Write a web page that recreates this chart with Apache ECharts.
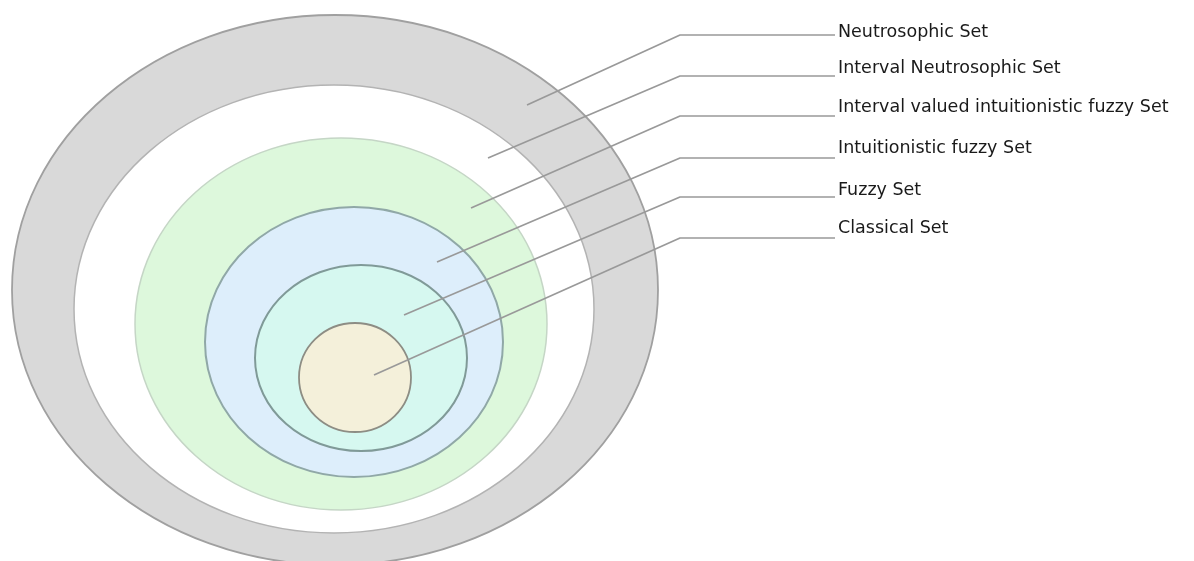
<!DOCTYPE html>
<html>
<head>
<meta charset="utf-8">
<script src="https://cdn.jsdelivr.net/npm/echarts@6/dist/echarts.min.js"></script>
<style>
html,body{margin:0;padding:0;background:#fff;}
#chart{width:1194px;height:561px;}
</style>
</head>
<body>
<div id="chart"></div>
<script>
// Set names (outer to inner)
var setNames = ["Neutrosophic Set", "Interval Neutrosophic Set", "Interval valued intuitionistic fuzzy Set", "Intuitionistic fuzzy Set", "Fuzzy Set", "Classical Set"];
// Ellipse geometry: centre x, centre y, radius x, radius y
var ellipseCx = [335, 334, 341, 354, 361, 355];
var ellipseCy = [290, 309, 324, 342, 358, 377.5];
var ellipseRx = [323, 260, 206, 149, 106, 56];
var ellipseRy = [275, 224, 186, 135, 93, 54.5];
// Leader line points: start (inside region), knee, end
var startX = [527, 488, 471, 437, 404, 374];
var startY = [105, 158, 208, 262, 315, 375];
var kneeX = [680, 680, 680, 680, 680, 680];
var lineY = [35, 76, 116, 158, 197, 238];
var endX = [835, 835, 835, 835, 835, 835];
// Label vertical centres
var labelY = [32, 68, 107, 148, 190, 228];

var fills = ['#d9d9d9', '#ffffff', '#ddf8dc', '#ddeefb', '#d6f8f0', '#f4f0da'];
var strokes = ['#a0a0a0', '#b3b3b3', '#c5d6c6', '#90a8a7', '#809a98', '#8d8d84'];
var strokeW = [1.8, 1.5, 1.5, 2, 2, 1.8];

var ellipseData = setNames.map(function (n, i) {
  return [ellipseCx[i], ellipseCy[i], ellipseRx[i], ellipseRy[i], i];
});

var series = [{
  type: 'custom',
  silent: true,
  z: 1,
  data: ellipseData,
  renderItem: function (params, api) {
    var c = api.coord([api.value(0), api.value(1)]);
    var s = api.size([api.value(2), api.value(3)]);
    var i = api.value(4);
    return {
      type: 'ellipse',
      z2: i,
      shape: { cx: c[0], cy: c[1], rx: s[0], ry: s[1] },
      style: { fill: fills[i], stroke: strokes[i], lineWidth: strokeW[i] }
    };
  }
}];

setNames.forEach(function (name, i) {
  series.push({
    type: 'line',
    name: name,
    z: 5,
    silent: true,
    symbol: 'none',
    animation: false,
    lineStyle: { color: '#999999', width: 1.7 },
    data: [[startX[i], startY[i]], [kneeX[i], lineY[i]], [endX[i], lineY[i]]],
    endLabel: {
      show: true,
      formatter: name,
      distance: 3,
      offset: [0, labelY[i] - lineY[i]],
      color: '#1a1a1a',
      fontFamily: 'DejaVu Sans',
      fontSize: 17.5
    }
  });
});

var chart = echarts.init(document.getElementById('chart'));
chart.setOption({
  animation: false,
  backgroundColor: '#ffffff',
  grid: { left: 0, right: 0, top: 0, bottom: 0 },
  xAxis: { type: 'value', min: 0, max: 1194, show: false },
  yAxis: { type: 'value', min: 0, max: 561, inverse: true, show: false },
  series: series
});
</script>
</body>
</html>
